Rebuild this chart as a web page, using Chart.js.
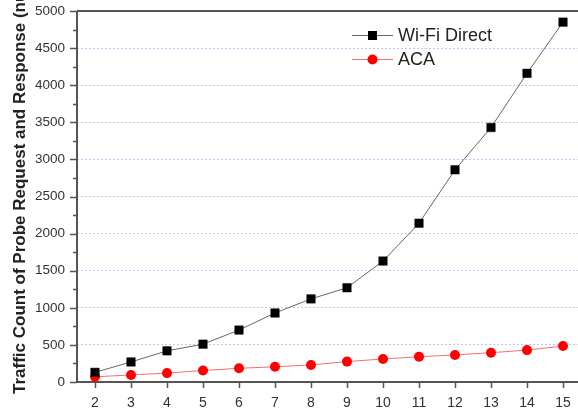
<!DOCTYPE html>
<html>
<head>
<meta charset="utf-8">
<script src="https://cdn.jsdelivr.net/npm/chart.js@4"></script>
<style>
  html, body { margin: 0; padding: 0; background: #fff; overflow: hidden; }
  #wrap { position: relative; width: 600px; height: 420px; }
</style>
</head>
<body>
<div id="wrap"><canvas id="chart"></canvas></div>
<script>
// data
const nodes = [2, 3, 4, 5, 6, 7, 8, 9, 10, 11, 12, 13, 14, 15];
const wifiDirect = [130, 270, 420, 510, 700, 930, 1120, 1270, 1630, 2140, 2860, 3430, 4160, 4850];
const aca = [70, 95, 120, 155, 185, 205, 230, 275, 310, 340, 365, 395, 430, 485];
const yTicks = [0, 500, 1000, 1500, 2000, 2500, 3000, 3500, 4000, 4500, 5000];
const yTitle = 'Traffic Count of Probe Request and Response (number)';

const FONT = "'Liberation Sans', Arial, sans-serif";
const AXIS = '#555';

const pts = vals => nodes.map((n, i) => ({ x: n, y: vals[i] }));

// frame, major/minor ticks and the y title
const framePlugin = {
  id: 'frame',
  beforeDatasetsDraw(chart) {
    const { ctx, chartArea: a, scales: { x, y } } = chart;
    ctx.save();
    ctx.strokeStyle = AXIS;
    ctx.lineWidth = 2;
    ctx.beginPath();
    ctx.moveTo(a.left, a.top); ctx.lineTo(a.right, a.top);
    ctx.moveTo(a.left, a.top); ctx.lineTo(a.left, a.bottom);
    ctx.moveTo(a.left, a.bottom); ctx.lineTo(a.right, a.bottom);
    ctx.stroke();
    ctx.lineWidth = 1.5;
    ctx.beginPath();
    for (let v = yTicks[0]; v <= yTicks[yTicks.length - 1]; v += 250) {
      const py = Math.round(y.getPixelForValue(v)) + 0.5;
      const len = v % 500 === 0 ? 7 : 4;
      ctx.moveTo(a.left, py); ctx.lineTo(a.left - len, py);
    }
    nodes.forEach(n => {
      const px = Math.round(x.getPixelForValue(n)) + 0.5;
      ctx.moveTo(px, a.bottom); ctx.lineTo(px, a.bottom + 6);
    });
    ctx.stroke();
    ctx.restore();
  },
  afterDraw(chart) {
    const { ctx } = chart;
    ctx.save();
    ctx.translate(20, 394);
    ctx.rotate(-Math.PI / 2);
    ctx.font = 'bold 17px ' + FONT;
    ctx.fillStyle = '#222';
    ctx.textAlign = 'left';
    ctx.textBaseline = 'middle';
    ctx.fillText(yTitle, 0, 0);
    ctx.restore();
  }
};

// legend with line through the marker, like Origin draws it
const legendPlugin = {
  id: 'originLegend',
  afterDraw(chart) {
    const { ctx } = chart;
    ctx.save();
    chart.data.datasets.forEach((ds, i) => {
      const yy = 35 + i * 24;
      ctx.strokeStyle = ds.borderColor;
      ctx.lineWidth = 1;
      ctx.beginPath();
      ctx.moveTo(352, yy + 0.5); ctx.lineTo(393, yy + 0.5);
      ctx.stroke();
      ctx.fillStyle = ds.pointBackgroundColor;
      if (ds.pointStyle === 'rect') {
        ctx.fillRect(368, yy - 4, 9, 9);
      } else {
        ctx.beginPath();
        ctx.arc(372.5, yy + 0.5, 5, 0, Math.PI * 2);
        ctx.fill();
      }
      ctx.font = '18px ' + FONT;
      ctx.fillStyle = '#222';
      ctx.textBaseline = 'middle';
      ctx.fillText(ds.label, 398, yy + 1);
    });
    ctx.restore();
  }
};

new Chart(document.getElementById('chart'), {
  type: 'line',
  data: {
    datasets: [
      {
        label: 'Wi-Fi Direct',
        data: pts(wifiDirect),
        borderColor: '#666',
        borderWidth: 1,
        pointStyle: 'rect',
        pointRadius: 6,
        pointBackgroundColor: '#000',
        pointBorderColor: '#000',
        pointBorderWidth: 0.5
      },
      {
        label: 'ACA',
        data: pts(aca),
        borderColor: '#f07070',
        borderWidth: 1,
        pointStyle: 'circle',
        pointRadius: 5,
        pointBackgroundColor: '#ff0000',
        pointBorderColor: '#ff0000',
        pointBorderWidth: 0
      }
    ]
  },
  options: {
    responsive: true,
    maintainAspectRatio: false,
    animation: false,
    clip: false,
    layout: { padding: { left: 0, right: 19, top: 11, bottom: 0 } },
    plugins: { legend: { display: false }, tooltip: { enabled: false } },
    scales: {
      x: {
        type: 'linear',
        min: 1.5,
        max: 15.5,
        afterBuildTicks: s => { s.ticks = nodes.map(v => ({ value: v })); },
        afterFit: s => { s.height = 38; s.paddingLeft = 0; s.paddingRight = 0; },
        border: { display: false },
        grid: { display: false, drawTicks: false },
        ticks: { padding: 13, color: '#333', font: { family: FONT, size: 14 }, callback: v => String(v) }
      },
      y: {
        min: 0,
        max: 5000,
        afterBuildTicks: s => { s.ticks = yTicks.map(v => ({ value: v })); },
        afterFit: s => { s.width = 77; s.paddingTop = 0; s.paddingBottom = 0; },
        border: { display: false, dash: [2, 2] },
        grid: {
          drawTicks: false,
          color: c => (c.tick && (c.tick.value === 0 || c.tick.value === 5000)) ? 'rgba(0,0,0,0)' : '#c2c2f0',
          lineWidth: 1
        },
        ticks: { padding: 12, color: '#333', font: { family: FONT, size: 13.5 }, callback: v => String(v) }
      }
    }
  },
  plugins: [framePlugin, legendPlugin]
});
</script>
</body>
</html>
